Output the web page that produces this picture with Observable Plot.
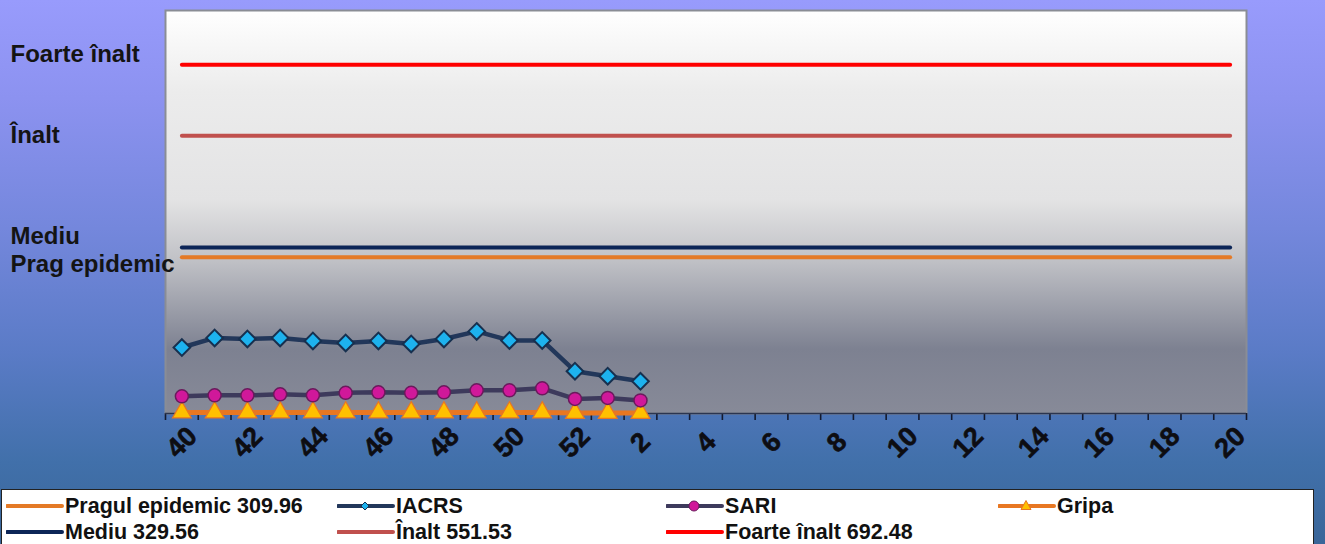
<!DOCTYPE html>
<html><head><meta charset="utf-8">
<script src="https://cdn.jsdelivr.net/npm/d3@7"></script>
<script src="https://cdn.jsdelivr.net/npm/@observablehq/plot@0.6"></script>
<style>
html,body{margin:0;padding:0;width:1325px;height:544px;overflow:hidden;}
body{position:relative;background:linear-gradient(to bottom,#989bfc 0%,#8c92f0 18%,#7487dc 42%,#5a7bc6 65%,#4170aa 85%,#3a6699 100%);font-family:"Liberation Sans",Arial,sans-serif;}
#legend{position:absolute;left:1px;top:489px;width:1311px;height:60px;background:#fff;border:1px solid #222;}
.item{position:absolute;font-weight:bold;font-size:21.5px;color:#111;height:24px;line-height:24px;white-space:nowrap;}
.item svg{position:absolute;top:0;}
</style></head><body><div id="chart"></div><div id="legend"></div>
<script>
// categories (ISO weeks)
const weeks = ["40","41","42","43","44","45","46","47","48","49","50","51","52","1","2","3","4","5","6","7","8","9","10","11","12","13","14","15","16","17","18","19","20"];
const tickLabels = ["40","42","44","46","48","50","52","2","4","6","8","10","12","14","16","18","20"];
// series (weeks 40..2)
const iacrs = [131,150,148,150,144,140,144,138,148,163,145,145,84,74,64];
const sari = [34,36,36,38,36,41,42,41,42,46,46,50,29,31,26];
const gripa = [2,2,2,2,2,2,2,2,2,2,2,2,1,1,1];
// intensity thresholds
const levelNames = ["Prag epidemic","Mediu","Înalt","Foarte înalt"];
const levelValues = [309.96,329.56,551.53,692.48];
const levelLegend = ["Pragul epidemic 309.96","Mediu 329.56","Înalt 551.53","Foarte înalt 692.48"];
const levelColors = ["#e47a26","#0c2557","#c0504d","#ff0000"];

const seriesRows = (vals) => vals.map((v,i) => ({week: weeks[i], v}));
const levelRows = levelValues.flatMap((v,i) => weeks.map(w => ({week: w, v, k: levelNames[i]})));

const W = 1325, H = 488, mL = 165, mR = 79, mT = 10, mB = 75;
const bw = (W - mL - mR) / weeks.length;
const labelDy = {"Prag epidemic": 7, "Mediu": -11, "Înalt": 0, "Foarte înalt": -10};

const chart = Plot.plot({
  width: W, height: H, marginLeft: mL, marginRight: mR, marginTop: mT, marginBottom: mB,
  style: {background: "transparent", overflow: "visible", fontFamily: "'Liberation Sans', Arial, sans-serif"},
  x: {type: "band", domain: weeks, padding: 0, round: false},
  y: {domain: [0, 800], axis: null},
  color: {domain: levelNames, range: levelColors},
  marks: [
    Plot.frame({fill: "url(#plotBg)", stroke: "#8a8d95", strokeWidth: 2}),
    Plot.axisX({ticks: weeks, tickSize: 7, tickFormat: () => "", label: null, dx: -bw/2, stroke: "#141a2e", strokeWidth: 1.6}),
    Plot.axisX({ticks: [weeks[weeks.length-1]], tickSize: 7, tickFormat: () => "", label: null, dx: bw/2, stroke: "#141a2e", strokeWidth: 1.6}),
    Plot.ruleY([0], {stroke: "#2b3550", strokeWidth: 1.5}),
    Plot.text(tickLabels, {x: d => d, frameAnchor: "bottom", dy: 29, rotate: -45, textAnchor: "middle", lineAnchor: "middle", fontSize: 27, fontWeight: "bold", fill: "#0d0d12", stroke: "#0d0d12", strokeWidth: 0.6}),
    Plot.line(levelRows, {x: "week", y: "v", z: "k", stroke: "k", strokeWidth: 4, strokeLinecap: "round"}),
    ...levelNames.map((n,i) => Plot.text([n], {y: [levelValues[i]], frameAnchor: "left", dx: -155, dy: labelDy[n], textAnchor: "start", fontSize: 24, fontWeight: "bold", fill: "#141414"})),
    Plot.line(seriesRows(gripa), {x: "week", y: "v", stroke: "#e87722", strokeWidth: 5}),
    Plot.dot(seriesRows(gripa), {x: "week", y: "v", symbol: "triangle", r: 7, fill: "#ffc000", stroke: "#e87722", strokeWidth: 1.2}),
    Plot.line(seriesRows(sari), {x: "week", y: "v", stroke: "#3d3a5c", strokeWidth: 4.5}),
    Plot.dot(seriesRows(sari), {x: "week", y: "v", symbol: "circle", r: 6.5, fill: "#d0189a", stroke: "#6a1a5c", strokeWidth: 1.5}),
    Plot.line(seriesRows(iacrs), {x: "week", y: "v", stroke: "#22375a", strokeWidth: 4.5}),
    Plot.dot(seriesRows(iacrs), {x: "week", y: "v", symbol: "diamond2", r: 7.5, fill: "#1db2ee", stroke: "#17304f", strokeWidth: 2})
  ]
});
d3.select(chart).insert("defs", ":first-child").html(
  `<linearGradient id="plotBg" x1="0" y1="0" x2="0" y2="1">
     <stop offset="0" stop-color="#ffffff"/>
     <stop offset="0.2" stop-color="#ececec"/>
     <stop offset="0.47" stop-color="#e3e3e4"/>
     <stop offset="0.62" stop-color="#c0c1c6"/>
     <stop offset="0.84" stop-color="#7d8191"/>
     <stop offset="1" stop-color="#878a98"/>
   </linearGradient>`);
document.getElementById("chart").appendChild(chart);

// legend
const legendItems = [
  {label: levelLegend[0], color: levelColors[0], x: 4, row: 0, marker: null},
  {label: "IACRS", color: "#22375a", x: 335, row: 0, marker: "diamond"},
  {label: "SARI", color: "#3d3a5c", x: 664, row: 0, marker: "circle"},
  {label: "Gripa", color: "#e87722", x: 996, row: 0, marker: "triangle"},
  {label: levelLegend[1], color: levelColors[1], x: 4, row: 1, marker: null},
  {label: levelLegend[2], color: levelColors[2], x: 335, row: 1, marker: null},
  {label: levelLegend[3], color: levelColors[3], x: 664, row: 1, marker: null}
];
const leg = document.getElementById("legend");
for (const it of legendItems) {
  const d = document.createElement("div");
  d.className = "item";
  d.style.left = it.x + "px";
  d.style.top = (4 + it.row * 26) + "px";
  let m = "";
  if (it.marker === "diamond") m = `<path d="M28,8 L32,12 L28,16 L24,12 Z" fill="#1db2ee" stroke="#17304f" stroke-width="1"/>`;
  if (it.marker === "circle") m = `<circle cx="28" cy="12" r="5" fill="#d0189a" stroke="#6a1a5c"/>`;
  if (it.marker === "triangle") m = `<path d="M28,6.5 L33,15.5 L23,15.5 Z" fill="#ffc000" stroke="#e87722" stroke-width="1"/>`;
  d.innerHTML = `<svg width="58" height="24" style="left:0"><line x1="1" x2="56" y1="12" y2="12" stroke="${it.color}" stroke-width="4" stroke-linecap="round"/>${m}</svg><span style="margin-left:59px">${it.label}</span>`;
  leg.appendChild(d);
}
</script></body></html>
